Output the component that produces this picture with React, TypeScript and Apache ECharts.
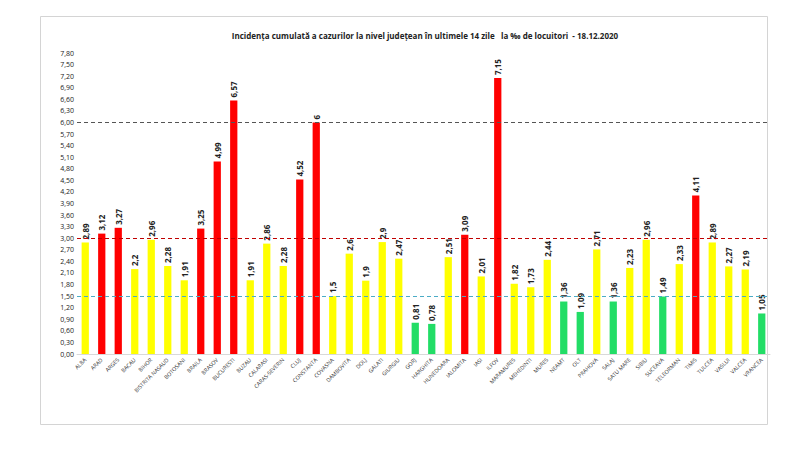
import React, { useEffect, useRef } from "react";
import * as echarts from "echarts";

const categories = [
  "ALBA", "ARAD", "ARGES", "BACAU", "BIHOR", "BISTRITA NASAUD", "BOTOSANI", "BRAILA", "BRASOV", "BUCURESTI",
  "BUZAU", "CALARASI", "CARAS-SEVERIN", "CLUJ", "CONSTANTA", "COVASNA", "DAMBOVITA", "DOLJ", "GALATI", "GIURGIU",
  "GORJ", "HARGHITA", "HUNEDOARA", "IALOMITA", "IASI", "ILFOV", "MARAMURES", "MEHEDINTI", "MURES", "NEAMT",
  "OLT", "PRAHOVA", "SALAJ", "SATU MARE", "SIBIU", "SUCEAVA", "TELEORMAN", "TIMIS", "TULCEA", "VASLUI",
  "VALCEA", "VRANCEA",
];

const values = [
  2.89, 3.12, 3.27, 2.2, 2.96, 2.28, 1.91, 3.25, 4.99, 6.57,
  1.91, 2.86, 2.28, 4.52, 6, 1.5, 2.6, 1.9, 2.9, 2.47,
  0.81, 0.78, 2.51, 3.09, 2.01, 7.15, 1.82, 1.73, 2.44, 1.36,
  1.09, 2.71, 1.36, 2.23, 2.96, 1.49, 2.33, 4.11, 2.89, 2.27,
  2.19, 1.05,
];

const thresholds = [6, 3, 1.5];

const titleText =
  "Incidența cumulată a cazurilor la nivel județean în ultimele 14 zile   la ‰ de locuitori  - 18.12.2020";

export default function App() {
  const ref = useRef<HTMLDivElement>(null);

  useEffect(() => {
    if (!ref.current) return;
    const chart = echarts.init(ref.current, null, { renderer: "svg" });
    const colorFor = (v: number) => (v > 3 ? "#ff0000" : v >= 1.5 ? "#ffff00" : "#22dd66");
    chart.setOption({
      animation: false,
      backgroundColor: "#ffffff",
      title: {
        text: titleText,
        left: 420,
        textAlign: "center",
        top: 26,
        textStyle: { fontFamily: "Open Sans", fontSize: 8, fontWeight: "bold", color: "#222" },
      },
      graphic: [
        {
          type: "rect",
          shape: { x: 40.5, y: 16.5, width: 727, height: 408 },
          style: { fill: "none", stroke: "#d4d4d4", lineWidth: 1 },
          silent: true,
        },
      ],
      grid: { left: 77, right: 30, top: 53, bottom: 98 },
      xAxis: {
        type: "category",
        data: categories,
        axisLine: { lineStyle: { color: "#d9d9d9" } },
        axisTick: { show: false },
        axisLabel: {
          interval: 0,
          rotate: 45,
          fontSize: 5.5,
          color: "#333",
          fontFamily: "Open Sans",
          margin: 5,
        },
      },
      yAxis: {
        type: "value",
        min: 0,
        max: 7.8,
        interval: 0.3,
        splitLine: { show: false },
        axisLine: { show: false },
        axisTick: { show: false },
        axisLabel: {
          fontSize: 7,
          color: "#222",
          fontFamily: "Open Sans",
          margin: 3,
          formatter: (v: number) => v.toFixed(2).replace(".", ","),
        },
      },
      series: [
        {
          type: "bar",
          barWidth: "44%",
          data: values.map((v) => ({ value: v, itemStyle: { color: colorFor(v) } })),
          label: {
            show: true,
            position: "top",
            rotate: 90,
            align: "left",
            verticalAlign: "middle",
            distance: 3,
            fontSize: 8,
            fontWeight: "bold",
            color: "#222",
            fontFamily: "Open Sans",
            formatter: (p: any) => String(p.value).replace(".", ","),
          },
          markLine: {
            silent: true,
            symbol: "none",
            label: { show: false },
            data: [
              { yAxis: thresholds[0], lineStyle: { color: "#555555", type: [4, 3], width: 1.2 } },
              { yAxis: thresholds[1], lineStyle: { color: "#c00000", type: [4, 3], width: 1.2 } },
              { yAxis: thresholds[2], lineStyle: { color: "#4bacc6", type: [4, 3], width: 1.2 } },
            ],
          },
        },
      ],
    });
    return () => chart.dispose();
  }, []);

  return <div ref={ref} style={{ position: "fixed", left: 0, top: 0, width: 800, height: 452 }} />;
}
